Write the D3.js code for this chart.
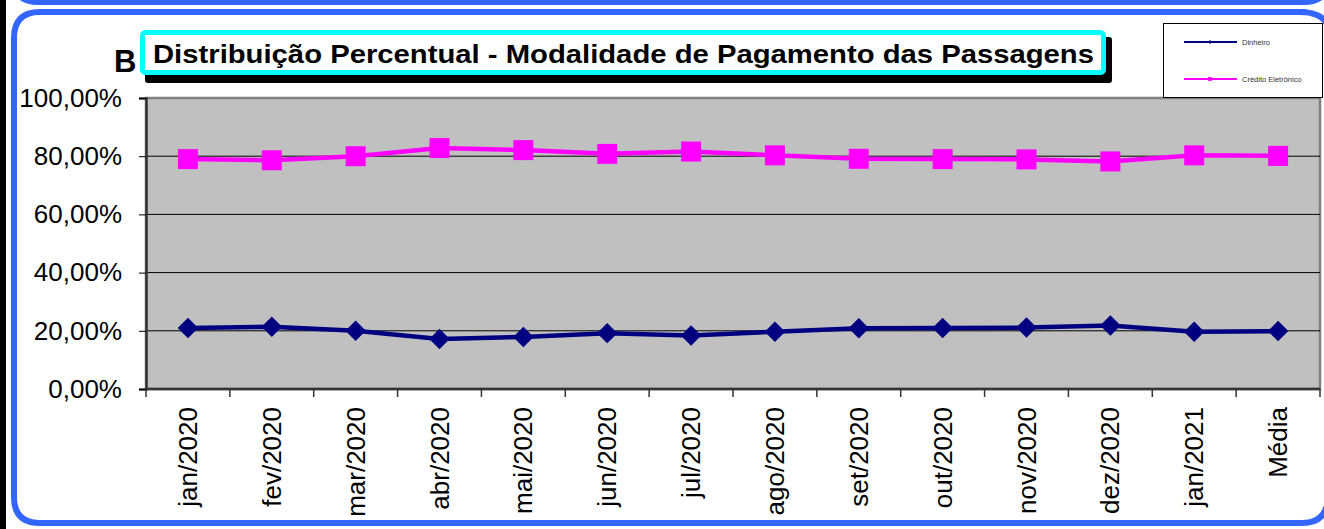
<!DOCTYPE html>
<html>
<head>
<meta charset="utf-8">
<script src="https://cdn.jsdelivr.net/npm/d3@7"></script>
<style>
  body { margin: 0; background: #fff; overflow: hidden; }
  svg { display: block; font-family: "Liberation Sans", Arial, sans-serif; }
</style>
</head>
<body>
<div id="chart"></div>
<script>
// data
const categories = ["jan/2020", "fev/2020", "mar/2020", "abr/2020", "mai/2020", "jun/2020",
  "jul/2020", "ago/2020", "set/2020", "out/2020", "nov/2020", "dez/2020", "jan/2021", "Média"];
const dinheiro = [21.0, 21.4, 20.0, 17.2, 17.9, 19.2, 18.4, 19.7, 20.9, 21.0, 21.1, 21.8, 19.7, 19.9];
const credito = [79.0, 78.6, 80.0, 82.8, 82.1, 80.8, 81.6, 80.3, 79.1, 79.0, 78.9, 78.2, 80.3, 80.1];
const yTicks = [0, 20, 40, 60, 80, 100];

const W = 1324, H = 529;
const blue = "#3366ff";
const plot = { left: 146, right: 1320, top: 98, bottom: 389 };

const ptBR = d3.formatLocale({ decimal: ",", thousands: ".", grouping: [3], currency: ["R$", ""] });
const pct = ptBR.format(".2%");

const svg = d3.select("#chart").append("svg")
    .attr("width", W)
    .attr("height", H);

// panel frame (right edge sits outside the picture, only the corners show)
svg.append("rect").attr("x", 0).attr("y", 0).attr("width", 6).attr("height", H).attr("fill", "#000");
svg.append("path")
    .attr("d", "M14,-30 V-22 Q14,2 38,2 H1304 Q1328,2 1328,-22")
    .attr("fill", "none").attr("stroke", blue).attr("stroke-width", 6);
svg.append("path")
    .attr("d", "M1306,12 H40 Q14,12 14,38 V497 Q14,523 40,523 H1302 Q1326,523 1328,499")
    .attr("fill", "none").attr("stroke", blue).attr("stroke-width", 6);
svg.append("path")
    .attr("d", "M1300,12 Q1322,12 1328,26")
    .attr("fill", "none").attr("stroke", blue).attr("stroke-width", 6);

const x = d3.scaleBand()
    .domain(categories)
    .range([plot.left, plot.right])
    .padding(0);
const y = d3.scaleLinear()
    .domain([0, 100])
    .range([plot.bottom, plot.top]);

// plot area
svg.append("rect")
    .attr("x", plot.left).attr("y", plot.top)
    .attr("width", plot.right - plot.left).attr("height", plot.bottom - plot.top)
    .attr("fill", "#c0c0c0").attr("stroke", "#808080").attr("stroke-width", 2.5);

svg.append("g").selectAll("line")
    .data(yTicks.filter(d => d > 0 && d < 100))
    .enter().append("line")
    .attr("x1", plot.left).attr("x2", plot.right)
    .attr("y1", d => y(d)).attr("y2", d => y(d))
    .attr("stroke", "#000").attr("stroke-width", 1);

// y axis
const yAxis = svg.append("g")
    .attr("transform", `translate(${plot.left},0)`)
    .call(d3.axisLeft(y).tickValues(yTicks).tickFormat(d => pct(d / 100)).tickSize(7).tickPadding(17));
yAxis.select(".domain").attr("stroke", "#333").attr("stroke-width", 2.5);
yAxis.selectAll(".tick line").attr("stroke", "#000");
yAxis.selectAll("text").attr("font-size", 26).attr("fill", "#000");

// x axis
svg.append("line")
    .attr("x1", plot.left).attr("x2", plot.right)
    .attr("y1", plot.bottom).attr("y2", plot.bottom)
    .attr("stroke", "#333").attr("stroke-width", 2.5);
svg.append("g").selectAll("line")
    .data(categories.map(c => x(c)).concat([plot.right]))
    .enter().append("line")
    .attr("x1", d => d).attr("x2", d => d)
    .attr("y1", plot.bottom).attr("y2", plot.bottom + 8)
    .attr("stroke", "#333").attr("stroke-width", 1.5);

const xAxis = svg.append("g")
    .attr("transform", `translate(0,${plot.bottom})`)
    .call(d3.axisBottom(x).tickSize(0));
xAxis.select(".domain").remove();
xAxis.selectAll("text")
    .attr("font-size", 26)
    .attr("fill", "#000")
    .attr("text-anchor", "end")
    .attr("transform", "rotate(-90)")
    .attr("x", -18)
    .attr("y", 0)
    .attr("dy", "0.35em");

// series
const line = d3.line()
    .x((d, i) => x(categories[i]) + x.bandwidth() / 2)
    .y(d => y(d));

const series = [
  { name: "Dinheiro", values: dinheiro, color: "#000080", shape: "diamond" },
  { name: "Crédito Eletrônico", values: credito, color: "#ff00ff", shape: "square" }
];

series.forEach(s => {
  svg.append("path")
      .datum(s.values)
      .attr("d", line)
      .attr("fill", "none")
      .attr("stroke", s.color)
      .attr("stroke-width", 4.5);
  svg.append("g").selectAll("path")
      .data(s.values)
      .enter().append("path")
      .attr("d", d3.symbol(d3.symbolSquare, s.shape === "square" ? 400 : 210))
      .attr("transform", (d, i) => `translate(${x(categories[i]) + x.bandwidth() / 2},${y(d)})` +
        (s.shape === "diamond" ? " rotate(45)" : ""))
      .attr("fill", s.color);
});

// title box
svg.append("rect")
    .attr("x", 145).attr("y", 37).attr("width", 967).attr("height", 46).attr("rx", 3)
    .attr("fill", "#000");
svg.append("rect")
    .attr("x", 142.5).attr("y", 32.5).attr("width", 961).attr("height", 40).attr("rx", 3)
    .attr("fill", "#fff").attr("stroke", "#00ffff").attr("stroke-width", 5);
svg.append("text")
    .attr("x", 153).attr("y", 63)
    .attr("font-size", 26).attr("font-weight", "bold")
    .attr("textLength", 941).attr("lengthAdjust", "spacingAndGlyphs")
    .text("Distribuição Percentual - Modalidade de Pagamento das Passagens");
svg.append("text")
    .attr("x", 114).attr("y", 72)
    .attr("font-size", 31).attr("font-weight", "bold")
    .text("B");

// legend
const legend = svg.append("g");
legend.append("rect")
    .attr("x", 1163.5).attr("y", 23.5).attr("width", 159).attr("height", 74)
    .attr("fill", "#fff").attr("stroke", "#000").attr("stroke-width", 1);
const legendY = [42, 79];
series.forEach((s, i) => {
  legend.append("line")
      .attr("x1", 1184).attr("x2", 1237)
      .attr("y1", legendY[i]).attr("y2", legendY[i])
      .attr("stroke", s.color).attr("stroke-width", 2);
  legend.append("path")
      .attr("d", d3.symbol(d3.symbolSquare, s.shape === "square" ? 14 : 8))
      .attr("transform", `translate(1210,${legendY[i]})` + (s.shape === "diamond" ? " rotate(45)" : ""))
      .attr("fill", s.color);
  legend.append("text")
      .attr("x", 1242).attr("y", legendY[i])
      .attr("dy", "0.35em")
      .attr("font-size", 7.5).attr("fill", "#333")
      .text(s.name);
});
</script>
</body>
</html>
